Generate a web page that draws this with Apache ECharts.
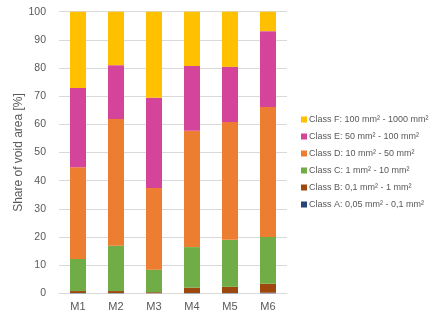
<!DOCTYPE html>
<html><head><meta charset="utf-8">
<script src="https://cdn.jsdelivr.net/npm/echarts@6/dist/echarts.min.js"></script>
<style>html,body{margin:0;padding:0;background:#fff}#c{width:439px;height:321px}</style>
</head><body><div id="c"></div>
<script>
const categories = ['M1','M2','M3','M4','M5','M6'];
const classA = [0.1, 0.1, 0.05, 0.1, 0.1, 0.2];
const classB = [0.7, 0.7, 0.35, 1.9, 2.2, 3.2];
const classC = [11.4, 16.1, 8.0, 14.4, 16.7, 16.6];
const classD = [32.6, 45.0, 29.0, 41.3, 41.8, 46.2];
const classE = [28.1, 19.1, 32.0, 23.0, 19.6, 26.9];
const classF = [27.1, 19.0, 30.6, 19.3, 19.6, 6.9];
const yTicks = [0,10,20,30,40,50,60,70,80,90,100];
const seriesNames = [
  'Class A: 0,05 mm² - 0,1 mm²',
  'Class B: 0,1 mm² - 1 mm²',
  'Class C: 1 mm² - 10 mm²',
  'Class D: 10 mm² - 50 mm²',
  'Class E: 50 mm² - 100 mm²',
  'Class F: 100 mm² - 1000 mm²'
];
const seriesData = [classA, classB, classC, classD, classE, classF];
const colors = ['#264478','#9E480E','#70AD47','#ED7D31','#D5449B','#FFC000'];
const font = 'Liberation Sans, Arial, sans-serif';
const chart = echarts.init(document.getElementById('c'), null, {renderer:'canvas'});
chart.setOption({
  animation:false,
  backgroundColor:'#fff',
  grid:{left:59, right:152, top:11.7, bottom:27.7, containLabel:false},
  legend:{
    orient:'vertical', left:296, top:110,
    itemWidth:6, itemHeight:6, itemGap:8.0,
    icon:'rect',
    data: seriesNames.slice().reverse(),
    textStyle:{fontSize:9, color:'#595959', fontFamily:font, padding:[0,0,0,-3]}
  },
  xAxis:{
    type:'category', data:categories,
    axisLine:{lineStyle:{color:'#d9d9d9', width:1}},
    axisTick:{show:false},
    axisLabel:{color:'#595959', fontSize:11, fontFamily:font, margin:8}
  },
  yAxis:{
    type:'value', min:0, max:100, interval:10,
    name:'Share of void area [%]', nameLocation:'middle', nameGap:34,
    nameMoveOverlap:false,
    nameTextStyle:{color:'#595959', fontSize:12, fontFamily:font},
    axisLine:{show:false}, axisTick:{show:false},
    splitLine:{lineStyle:{color:'#d9d9d9', width:1}},
    axisLabel:{color:'#595959', fontSize:10.5, fontFamily:font, margin:13,
      formatter: v => yTicks.includes(v) ? String(v) : ''}
  },
  series: seriesNames.map((n,i)=>({
    name:n, type:'bar', stack:'total', data:seriesData[i],
    barWidth:16, itemStyle:{color:colors[i]}
  }))
});
</script></body></html>
